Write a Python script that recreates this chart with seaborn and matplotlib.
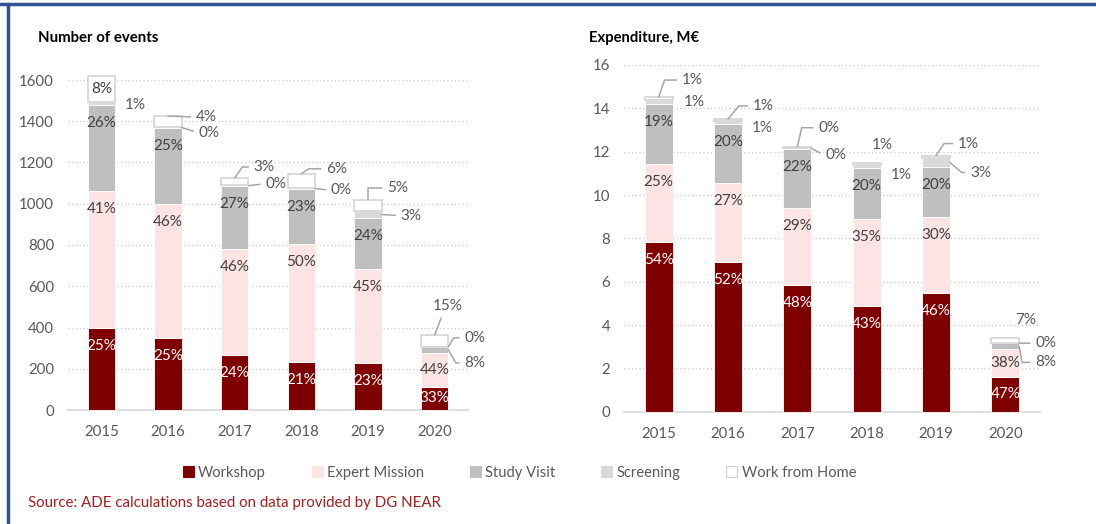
import numpy as np
import pandas as pd
import matplotlib
matplotlib.use("Agg")
import matplotlib.pyplot as plt
from matplotlib.patches import Patch
from matplotlib.lines import Line2D
import seaborn as sns

# data
years = ["2015", "2016", "2017", "2018", "2019", "2020"]
categories = ["Workshop", "Expert Mission", "Study Visit", "Screening", "Work from Home"]

events_workshop = [400, 350, 265, 235, 230, 113]
events_expert = [660, 650, 515, 570, 455, 165]
events_study = [420, 365, 305, 265, 245, 27]
events_screening = [15, 8, 5, 8, 35, 2]
events_wfh = [125, 52, 35, 67, 55, 57]

exp_workshop = [7.85, 6.9, 5.85, 4.88, 5.46, 1.59]
exp_expert = [3.6, 3.67, 3.54, 4.0, 3.51, 1.29]
exp_study = [2.75, 2.71, 2.73, 2.35, 2.33, 0.27]
exp_screening = [0.2, 0.15, 0.06, 0.15, 0.4, 0.02]
exp_wfh = [0.12, 0.08, 0.05, 0.12, 0.12, 0.25]

# percentage labels as printed on the chart
events_pct_workshop = [25, 25, 24, 21, 23, 33]
events_pct_expert = [41, 46, 46, 50, 45, 44]
events_pct_study = [26, 25, 27, 23, 24, 8]
events_pct_screening = [1, 0, 0, 0, 3, 0]
events_pct_wfh = [8, 4, 3, 6, 5, 15]

exp_pct_workshop = [54, 52, 48, 43, 46, 47]
exp_pct_expert = [25, 27, 29, 35, 30, 38]
exp_pct_study = [19, 20, 22, 20, 20, 8]
exp_pct_screening = [1, 1, 0, 1, 3, 0]
exp_pct_wfh = [1, 1, 0, 1, 1, 7]

colors = {"Workshop": "#7f0000", "Expert Mission": "#fde4e4", "Study Visit": "#bfbfbf",
          "Screening": "#d9d9d9", "Work from Home": "#ffffff"}
edges = {"Workshop": "white", "Expert Mission": "white", "Study Visit": "white",
         "Screening": "white", "Work from Home": "#d4d4d4"}
txt_in = {"Workshop": "white", "Expert Mission": "#404040", "Study Visit": "#404040"}
GREY_TXT = "#595959"
LEADER = "#a6a6a6"
PCT_SIZE = 11

sns.set_theme(style="white")
plt.rcParams["font.family"] = ["Lato", "DejaVu Sans"]

events = pd.DataFrame({"year": years, "Workshop": events_workshop, "Expert Mission": events_expert,
                       "Study Visit": events_study, "Screening": events_screening,
                       "Work from Home": events_wfh})
expend = pd.DataFrame({"year": years, "Workshop": exp_workshop, "Expert Mission": exp_expert,
                       "Study Visit": exp_study, "Screening": exp_screening,
                       "Work from Home": exp_wfh})
events_pct = dict(zip(categories, [events_pct_workshop, events_pct_expert, events_pct_study,
                                   events_pct_screening, events_pct_wfh]))
exp_pct = dict(zip(categories, [exp_pct_workshop, exp_pct_expert, exp_pct_study,
                                exp_pct_screening, exp_pct_wfh]))

# labels placed outside the bars: (category, year idx, anchor, dx px, dy px, leader)
# leader: None = no line, "s" = straight, number = angle of the leg at the bar
events_out = [
    ("Work from Home", 0, "in", 0, 0, None),
    ("Screening", 0, "side", 10, -2, None),
    ("Work from Home", 1, "top", 28, -1, "s"),
    ("Screening", 1, "side", 17, -5, "s"),
    ("Work from Home", 2, "top", 19, 11, 55),
    ("Screening", 2, "side", 17, 2, "s"),
    ("Work from Home", 3, "top", 25, 5, 35),
    ("Screening", 3, "side", 16, -2, "s"),
    ("Work from Home", 4, "top", 19, 12, 90),
    ("Screening", 4, "side", 19, -1, "s"),
    ("Work from Home", 5, "top", -2, 29, "b"),
    ("Screening", 5, "side", 16, 9, 60),
    ("Study Visit", 5, "side", 16, -13, -60),
]
exp_out = [
    ("Work from Home", 0, "top", 23, 17, 71),
    ("Screening", 0, "side", 11, 0, None),
    ("Work from Home", 1, "top", 25, 13, 50),
    ("Screening", 1, "side", 10, -6, None),
    ("Work from Home", 2, "top", 21, 19, 77),
    ("Screening", 2, "side", 14, -7, "s"),
    ("Work from Home", 3, "top", 5, 18, None),
    ("Screening", 3, "side", 10, -8, None),
    ("Work from Home", 4, "top", 22, 12, 56),
    ("Screening", 4, "side", 20, -10, -40),
    ("Work from Home", 5, "top", 10, 18, None),
    ("Screening", 5, "side", 16, 0, "s"),
    ("Study Visit", 5, "side", 16, -16, -80),
]

fig = plt.figure(figsize=(10.96, 5.24), dpi=100)
ax1 = fig.add_axes([68 / 1096, 1 - 410 / 524, 400 / 1096, 330 / 524])
ax2 = fig.add_axes([624 / 1096, 1 - 411.7 / 524, 416 / 1096, 346.7 / 524])


def draw_panel(ax, df, pct, outside, ymax, step, bw):
    bottom = np.zeros(len(df))
    cum = {}
    for cat in categories:
        sns.barplot(data=df, x="year", y=cat, bottom=bottom, color=colors[cat], saturation=1,
                    width=bw, edgecolor=edges[cat],
                    linewidth=1.2 if cat == "Work from Home" else 0.6,
                    ax=ax, zorder=3, clip_on=False)
        cum[cat] = (bottom.copy(), bottom + df[cat].to_numpy())
        bottom = bottom + df[cat].to_numpy()

    ax.set_ylim(0, ymax)
    ax.set_xlim(-0.5, 5.5)
    ax.set_yticks(np.arange(0, ymax + step / 2, step))
    ax.set_xlabel("")
    ax.set_ylabel("")
    ax.grid(axis="y", color="#c9c9c9", linestyle=(0, (1, 2)), linewidth=0.9, zorder=0)
    for s in ["left", "right", "top"]:
        ax.spines[s].set_visible(False)
    ax.spines["bottom"].set_color("#d9d9d9")
    ax.spines["bottom"].set_linewidth(1.2)
    ax.tick_params(axis="y", length=0, pad=10, labelsize=10.8, labelcolor=GREY_TXT)
    ax.tick_params(axis="x", length=0, pad=11, labelsize=10.8, labelcolor=GREY_TXT)

    skip = {(c, i) for c, i, *_ in outside}
    # labels inside the bars, a bit below the segment top
    for cat in ["Workshop", "Expert Mission", "Study Visit"]:
        lo, hi = cum[cat]
        for i in range(len(df)):
            if (cat, i) in skip:
                continue
            p_lo = ax.transData.transform((i, lo[i]))[1]
            p_hi = ax.transData.transform((i, hi[i]))[1]
            off = -18 if (p_hi - p_lo) > 36 else -(p_hi - p_lo) / 2
            ax.annotate(f"{pct[cat][i]}%", (i, hi[i]), xytext=(0, off), textcoords="offset pixels",
                        ha="center", va="center", fontsize=PCT_SIZE, color=txt_in[cat], zorder=5)

    # small segments labelled outside, with leader lines
    for cat, i, anchor, dx, dy, leader in outside:
        lo, hi = cum[cat]
        label = f"{pct[cat][i]}%"
        if anchor == "in":
            ax.annotate(label, (i, (lo[i] + hi[i]) / 2), ha="center", va="center",
                        fontsize=PCT_SIZE, color="#404040", zorder=5, annotation_clip=False)
            continue
        if anchor == "top":
            xy = (i, hi[i])
        else:
            xy = (i + bw / 2, (lo[i] + hi[i]) / 2)
        arrow = None
        if leader is not None:
            arrow = dict(arrowstyle="-", color=LEADER, lw=1.1, shrinkA=1.5, shrinkB=0,
                         relpos=(0, 0.5))
            if leader == "s":
                arrow["connectionstyle"] = "arc3,rad=0"
            elif leader == "b":
                arrow["relpos"] = (0.35, 0)
                arrow["connectionstyle"] = "arc3,rad=0"
            else:
                arrow["connectionstyle"] = f"angle,angleA=0,angleB={leader},rad=0"
        ax.annotate(label, xy, xytext=(dx, dy), textcoords="offset pixels", ha="left",
                    va="center", fontsize=PCT_SIZE, color=GREY_TXT, arrowprops=arrow,
                    zorder=5, annotation_clip=False)


draw_panel(ax1, events, events_pct, events_out, 1600, 200, 0.41)
draw_panel(ax2, expend, exp_pct, exp_out, 16, 2, 0.40)

fig.text(38 / 1096, 1 - 38 / 524, "Number of events", fontsize=10.8, fontweight="bold",
         color="black", ha="left", va="center")
fig.text(589 / 1096, 1 - 38 / 524, "Expenditure, M€", fontsize=10.6, fontweight="bold",
         color="black", ha="left", va="center")

handles = [Patch(facecolor=colors[c], edgecolor=("#cfcfcf" if c == "Work from Home" else colors[c]),
                 linewidth=0.8) for c in categories]
leg = fig.legend(handles, categories, loc="center", bbox_to_anchor=(0.474, 1 - 473 / 524),
                 ncol=5, frameon=False, fontsize=10.6, handlelength=0.75, handleheight=0.75,
                 handletextpad=0.3, columnspacing=3.1)
for t in leg.get_texts():
    t.set_color(GREY_TXT)

fig.text(28 / 1096, 1 - 503 / 524, "Source: ADE calculations based on data provided by DG NEAR",
         fontsize=10.8, color="#a31f1f", ha="left", va="center")

# blue frame (top and left edges)
fig.add_artist(Line2D([0, 1], [1 - 4 / 524, 1 - 4 / 524], transform=fig.transFigure,
                      color="#2f5496", linewidth=2.5))
fig.add_artist(Line2D([8 / 1096, 8 / 1096], [0, 1 - 4 / 524], transform=fig.transFigure,
                      color="#2f5496", linewidth=2.5))

fig.savefig("out.png", dpi=100)
